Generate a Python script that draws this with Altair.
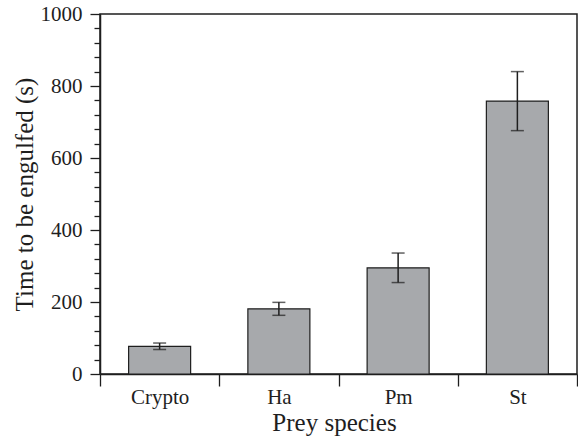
import altair as alt
import pandas as pd

# Mean time to engulfment per prey species, with error bar half-widths
species = ["Crypto", "Ha", "Pm", "St"]
mean_time = [77, 181, 295, 758]
err_time = [9, 18, 41, 82]

df = pd.DataFrame({"species": species, "time": mean_time, "err": err_time})
df["lo"] = df["time"] - df["err"]
df["hi"] = df["time"] + df["err"]

ink = "#1e1e1e"
bar_fill = "#a7a9ac"
font = "Liberation Serif"

x_enc = alt.X(
    "species:N",
    sort=species,
    title="Prey species",
    scale=alt.Scale(paddingInner=0, paddingOuter=0),
    axis=alt.Axis(
        labelAngle=0,
        tickBand="extent",
        tickSize=12,
        labelPadding=0,
        titlePadding=3,
        titleX=234,
    ),
)

y_scale = alt.Scale(domain=[0, 1000], nice=False)
y_axis = alt.Axis(
    values=list(range(0, 1001, 40)),
    format="d",
    labelExpr="datum.value % 200 === 0 ? datum.label : ''",
    labelOverlap=False,
    tickSize={"condition": {"test": "datum.value % 200 === 0", "value": 10}, "value": 6},
    labelPadding=8,
    titlePadding=3,
)
y_title = "Time to be engulfed (s)"


def y_of(field):
    return alt.Y(f"{field}:Q", scale=y_scale, axis=y_axis, title=y_title)


base = alt.Chart(df)

bars = base.mark_bar(
    width=alt.RelativeBandSize(0.52), fill=bar_fill, stroke=ink, strokeWidth=1.2
).encode(x=x_enc, y=y_of("time"))

whisker = base.mark_rule(color=ink, strokeWidth=1.5).encode(
    x=x_enc, y=y_of("lo"), y2="hi:Q"
)

cap_lo = base.mark_tick(orient="horizontal", size=13, thickness=1.5, color=ink).encode(
    x=x_enc, y=y_of("lo")
)
cap_hi = base.mark_tick(orient="horizontal", size=13, thickness=1.5, color=ink).encode(
    x=x_enc, y=y_of("hi")
)

chart = (
    alt.layer(bars, whisker, cap_lo, cap_hi)
    .properties(
        width=477,
        height=360,
        autosize=alt.AutoSizeParams(type="none"),
        padding={"left": 100, "top": 14, "right": 1, "bottom": 67},
        background="white",
    )
    .configure_axis(
        labelFont=font,
        titleFont=font,
        labelFontSize=21,
        titleFontSize=25,
        titleFontWeight="normal",
        labelColor=ink,
        titleColor=ink,
        domainColor=ink,
        domainWidth=1.5,
        tickColor=ink,
        tickWidth=1.3,
        grid=False,
    )
    .configure_view(stroke=ink, strokeWidth=1.5)
)

chart.save("out.html", embed_options={"renderer": "svg", "actions": False})
